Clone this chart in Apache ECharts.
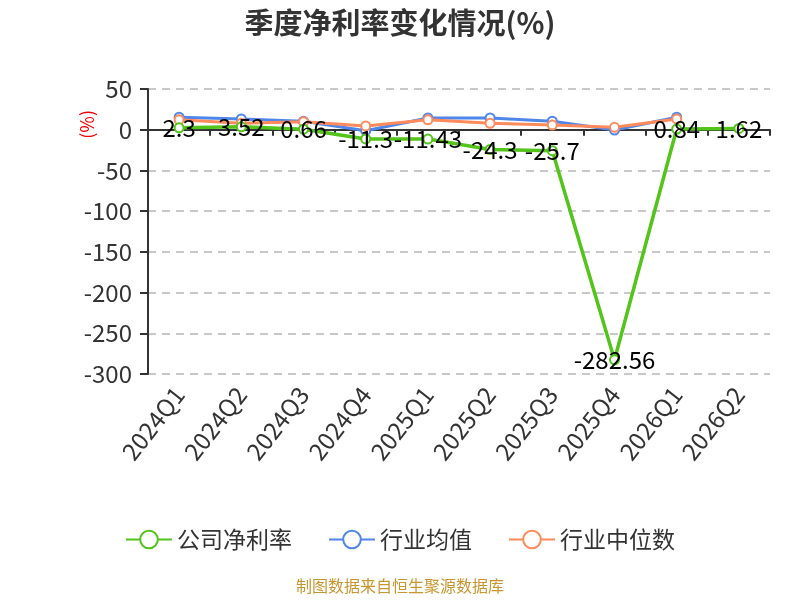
<html>
<head>
    <meta charset="utf-8">
    <title>季度净利率变化情况</title>
    <script src="https://cdn.jsdelivr.net/npm/echarts@6/dist/echarts.min.js"></script>
    <style>
        html, body { margin: 0; padding: 0; background: #fff; }
        #main { width: 800px; height: 600px; }
    </style>
</head>
<body>
    <div id="main"></div>
    <script>
        // 数据
        var QUARTERS = ['2024Q1', '2024Q2', '2024Q3', '2024Q4', '2025Q1', '2025Q2', '2025Q3', '2025Q4', '2026Q1', '2026Q2']
        var COMPANY = [2.3, 3.52, 0.66, -11.3, -11.43, -24.3, -25.7, -282.56, 0.84, 1.62]
        var IND_MEAN = [15.3, 13.2, 10.4, -1.2, 14.4, 14.4, 10.4, -0.4, 15.3, null]
        var IND_MEDIAN = [12.3, 7.9, 9.9, 4.6, 12.2, 7.9, 5.8, 2.9, 13.2, null]
        var Y_TICKS = { min: -300, max: 50, interval: 50 }

        var FONT = '"Noto Sans CJK SC", "Noto Sans", sans-serif'
        var chart = echarts.init(document.getElementById('main'))

        function lineSeries(name, data, color, withLabel) {
            return {
                name: name,
                type: 'line',
                data: data,
                color: color,
                symbol: 'emptyCircle',
                symbolSize: 9,
                lineStyle: { width: withLabel ? 3.5 : 3 },
                itemStyle: { borderWidth: 2 },
                label: withLabel ? {
                    show: true,
                    position: 'inside',
                    color: '#000',
                    fontSize: 24,
                    fontFamily: FONT,
                } : { show: false },
                z: withLabel ? 3 : 2,
            }
        }

        chart.setOption({
            backgroundColor: '#fff',
            textStyle: { fontFamily: FONT },
            title: {
                text: '季度净利率变化情况(%)',
                left: 'center',
                top: 3,
                textStyle: { fontSize: 29, fontWeight: 'bold', color: '#333', fontFamily: FONT },
            },
            grid: { left: 148, right: 30, top: 89, bottom: 226 },
            legend: {
                bottom: 44,
                left: 'center',
                itemWidth: 46,
                itemHeight: 22,
                itemGap: 36,
                textStyle: { fontSize: 23, color: '#333', fontFamily: FONT },
                data: ['公司净利率', '行业均值', '行业中位数'],
            },
            xAxis: [{
                type: 'category',
                data: QUARTERS,
                boundaryGap: true,
                axisLine: { onZero: false, show: false },
                axisTick: { show: false },
                axisLabel: { rotate: 52, fontSize: 24, color: '#333', margin: 16, interval: 0 },
            }, {
                type: 'category',
                data: QUARTERS,
                boundaryGap: true,
                position: 'bottom',
                axisLine: { onZero: true, lineStyle: { color: '#333', width: 2 } },
                axisTick: { show: true, inside: false, length: 6, lineStyle: { color: '#333', width: 2 } },
                axisLabel: { show: false },
            }],
            yAxis: {
                type: 'value',
                min: Y_TICKS.min,
                max: Y_TICKS.max,
                interval: Y_TICKS.interval,
                axisLine: { show: true, lineStyle: { color: '#333', width: 2 } },
                axisTick: { show: true, length: 8, lineStyle: { color: '#333', width: 2 } },
                axisLabel: { fontSize: 24, color: '#333', margin: 16 },
                splitLine: { lineStyle: { type: [8, 6], color: '#c8c8c8', width: 2 } },
            },
            graphic: [{
                type: 'text',
                left: 78,
                top: 110,
                rotation: Math.PI / 2,
                style: { text: '(%)', fill: '#e00', fontSize: 18, fontFamily: FONT },
            }, {
                type: 'text',
                left: 'center',
                top: 578,
                style: { text: '制图数据来自恒生聚源数据库', fill: '#c8962e', fontSize: 16, fontFamily: FONT },
            }],
            series: [
                lineSeries('行业均值', IND_MEAN, '#4f86ea', false),
                lineSeries('行业中位数', IND_MEDIAN, '#ff8a5c', false),
                lineSeries('公司净利率', COMPANY, '#52c41a', true),
            ],
        })
    </script>
</body>
</html>
